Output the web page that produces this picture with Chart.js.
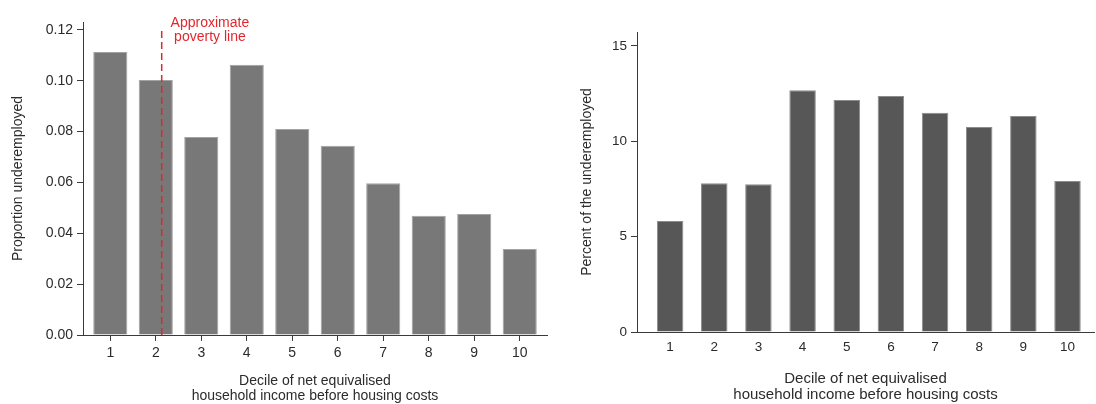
<!DOCTYPE html>
<html>
<head>
<meta charset="utf-8">
<script src="https://cdn.jsdelivr.net/npm/chart.js@4"></script>
<style>
  body { margin: 0; background: #fff; }
  #wrap { position: relative; width: 1096px; height: 404px; }
  .box { position: absolute; top: 0; height: 404px; }
</style>
</head>
<body>
<div id="wrap">
  <div class="box" style="left:0;width:560px"><canvas id="leftChart"></canvas></div>
  <div class="box" style="left:560px;width:536px"><canvas id="rightChart"></canvas></div>
</div>
<script>
// deciles of net equivalised household income (BHC)
const deciles = [1, 2, 3, 4, 5, 6, 7, 8, 9, 10];

// left panel: proportion of each decile that is underemployed
const proportionUnderemployed = [0.1113, 0.1003, 0.0779, 0.1063, 0.0810, 0.0744, 0.0597, 0.0469, 0.0476, 0.0338];
const leftYTicks = [0, 0.02, 0.04, 0.06, 0.08, 0.10, 0.12];

// right panel: share of all underemployed in each decile
const percentOfUnderemployed = [5.82, 7.80, 7.75, 12.68, 12.17, 12.38, 11.49, 10.75, 11.33, 7.92];
const rightYTicks = [0, 5, 10, 15];

// where the dashed poverty line sits on the decile axis
const povertyLineDecile = 2.13;
const povertyLineTop = 0.12;
const povertyLabel = ['Approximate', 'poverty line'];

const xTitle = ['Decile of net equivalised', 'household income before housing costs'];
const textColor = '#2b2b2b';
const axisColor = '#3a3a3a';
const fontFamily = '"Liberation Sans", Arial, sans-serif';

Chart.defaults.font.family = fontFamily;
Chart.defaults.color = textColor;
Chart.defaults.animation = false;

function toPoints(values) {
    return deciles.map((d, i) => ({ x: d, y: values[i] }));
}

/* left chart */
const povertyTextPlugin = {
    id: 'povertyText',
    afterDatasetsDraw(chart) {
        const ctx = chart.ctx;
        const x = chart.scales.x.getPixelForValue(3.19);
        const top = chart.chartArea.top;
        ctx.save();
        ctx.fillStyle = '#e3262d';
        ctx.font = '14px ' + fontFamily;
        ctx.textAlign = 'center';
        ctx.textBaseline = 'middle';
        ctx.fillText(povertyLabel[0], x, top + 1);
        ctx.fillText(povertyLabel[1], x, top + 15);
        ctx.restore();
    }
};

new Chart(document.getElementById('leftChart'), {
    type: 'bar',
    data: {
        datasets: [{
            type: 'line',
            data: [{ x: povertyLineDecile, y: 0 }, { x: povertyLineDecile, y: povertyLineTop }],
            borderColor: '#e3262d',
            borderWidth: 1.5,
            borderDash: [7, 4],
            pointRadius: 0,
            order: 0
        }, {
            data: toPoints(proportionUnderemployed),
            backgroundColor: '#787878',
            borderColor: '#a3a3a3',
            borderWidth: 1,
            barPercentage: 0.75,
            categoryPercentage: 1,
            order: 1
        }]
    },
    options: {
        responsive: true,
        maintainAspectRatio: false,
        layout: { padding: { top: 22, right: 13, left: 0, bottom: 0 } },
        plugins: { legend: { display: false }, tooltip: { enabled: false } },
        scales: {
            x: {
                type: 'linear',
                offset: false,
                min: 0.4,
                max: 10.6,
                afterBuildTicks: s => { s.ticks = deciles.map(v => ({ value: v })); },
                afterFit: s => { s.height = 69; },
                grid: { offset: false, drawOnChartArea: false, tickLength: 6, color: axisColor },
                border: { color: axisColor },
                ticks: { padding: 4, font: { size: 14 } },
                title: { display: true, text: xTitle, font: { size: 14, lineHeight: 1.07 }, padding: { top: 0, bottom: 0 } }
            },
            y: {
                min: 0,
                max: 0.1231,
                afterBuildTicks: s => { s.ticks = leftYTicks.map(v => ({ value: v })); },
                afterFit: s => { s.width = 83; },
                grid: { drawOnChartArea: false, tickLength: 6, color: axisColor },
                border: { color: axisColor },
                ticks: { padding: 4, font: { size: 14 }, callback: v => v.toFixed(2) },
                title: { display: true, text: 'Proportion underemployed', font: { size: 14, lineHeight: 1.07 }, padding: { top: 10.5, bottom: 0 } }
            }
        }
    },
    plugins: [povertyTextPlugin]
});

/* right chart */
new Chart(document.getElementById('rightChart'), {
    type: 'bar',
    data: {
        datasets: [{
            data: toPoints(percentOfUnderemployed),
            backgroundColor: '#575757',
            borderColor: '#8c8c8c',
            borderWidth: 1,
            barPercentage: 0.6,
            categoryPercentage: 1
        }]
    },
    options: {
        responsive: true,
        maintainAspectRatio: false,
        layout: { padding: { top: 32, right: 2, left: 0, bottom: 0 } },
        plugins: { legend: { display: false }, tooltip: { enabled: false } },
        scales: {
            x: {
                type: 'linear',
                offset: false,
                min: 0.25,
                max: 10.6,
                afterBuildTicks: s => { s.ticks = deciles.map(v => ({ value: v })); },
                afterFit: s => { s.height = 72; },
                grid: { offset: false, drawOnChartArea: false, drawTicks: false, color: axisColor },
                border: { color: axisColor },
                ticks: { padding: 7, font: { size: 13.5 } },
                title: { display: true, text: xTitle, font: { size: 15, lineHeight: 1.07 }, padding: { top: 0, bottom: 1 } }
            },
            y: {
                min: 0,
                max: 15.73,
                afterBuildTicks: s => { s.ticks = rightYTicks.map(v => ({ value: v })); },
                afterFit: s => { s.width = 77; },
                grid: { drawOnChartArea: false, tickLength: 6, color: axisColor },
                border: { color: axisColor },
                ticks: { padding: 4, font: { size: 13.5 } },
                title: { display: true, text: 'Percent of the underemployed', font: { size: 14, lineHeight: 1.14 }, padding: { top: 19, bottom: 0 } }
            }
        }
    }
});
</script>
</body>
</html>
